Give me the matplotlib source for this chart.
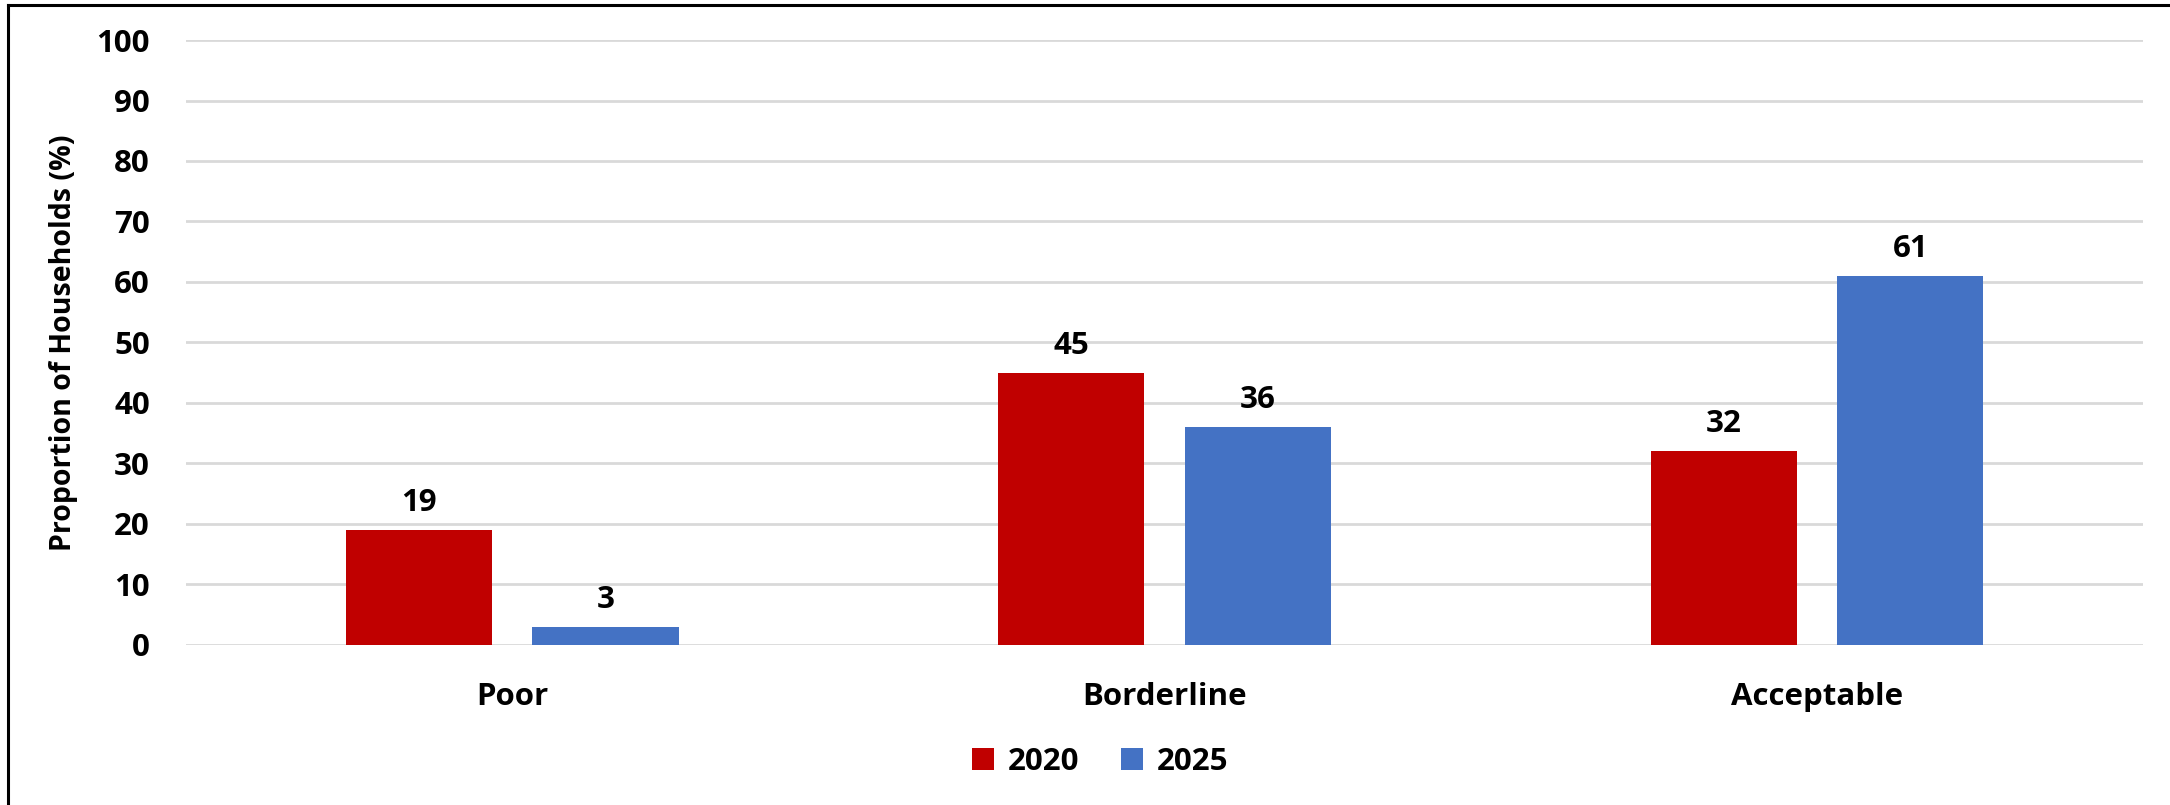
import matplotlib
matplotlib.use("Agg")
import matplotlib.pyplot as plt
from matplotlib.lines import Line2D
import numpy as np

##### data #####
categories = ['Poor', 'Borderline', 'Acceptable']
years = ['2020', '2025']
values_2020 = [19, 45, 32]
values_2025 = [3, 36, 61]
colors = ['#C00000', '#4472C4']

plt.rcParams['font.family'] = ['Open Sans', 'DejaVu Sans']
plt.rcParams['font.weight'] = 'bold'

fig = plt.figure(figsize=(21.7, 8.05), dpi=100)
ax = fig.add_axes([0.0857, 0.1988, 0.9019, 0.7515])

x = np.arange(len(categories))
w = 0.224
off = 0.143

bars1 = ax.bar(x - off, values_2020, w, color=colors[0], label=years[0], zorder=3)
bars2 = ax.bar(x + off, values_2025, w, color=colors[1], label=years[1], zorder=3)

# value labels above bars
for bars in (bars1, bars2):
    for b in bars:
        ax.text(b.get_x() + b.get_width() / 2, b.get_height() + 2.0, f"{b.get_height():.0f}",
                ha='center', va='bottom', fontsize=22.5, fontweight='bold')

ax.set_xlim(-0.5, 2.5)
ax.set_ylim(0, 100)
ax.set_yticks(np.arange(0, 101, 10))
ax.set_xticks(x)
ax.set_xticklabels(categories, fontsize=22.5, fontweight='bold')
ax.tick_params(axis='y', labelsize=22.5, length=0, pad=26)
ax.tick_params(axis='x', length=0, pad=27)
for lbl in ax.get_yticklabels():
    lbl.set_fontweight('bold')

ax.grid(axis='y', color='#d9d9d9', linewidth=2, zorder=0)
for s in ax.spines.values():
    s.set_visible(False)

ax.set_ylabel('Proportion of Households (%)', fontsize=20.5, fontweight='bold')
ax.yaxis.set_label_coords(-0.055, 0.5)

leg = fig.legend(handles=[bars1, bars2], labels=years, loc='center', bbox_to_anchor=(0.507, 0.053),
                 ncol=2, frameon=False, fontsize=22.5, handlelength=0.7, handleheight=0.7,
                 columnspacing=1.35, handletextpad=0.45)
for t in leg.get_texts():
    t.set_fontweight('bold')

# outer frame (left and top edges only visible)
fig.add_artist(Line2D([0.0035, 0.0035], [0, 0.994], color='black', linewidth=2.2, transform=fig.transFigure))
fig.add_artist(Line2D([0.0035, 1.0], [0.994, 0.994], color='black', linewidth=2.2, transform=fig.transFigure))

fig.savefig('out.png', dpi=100)
